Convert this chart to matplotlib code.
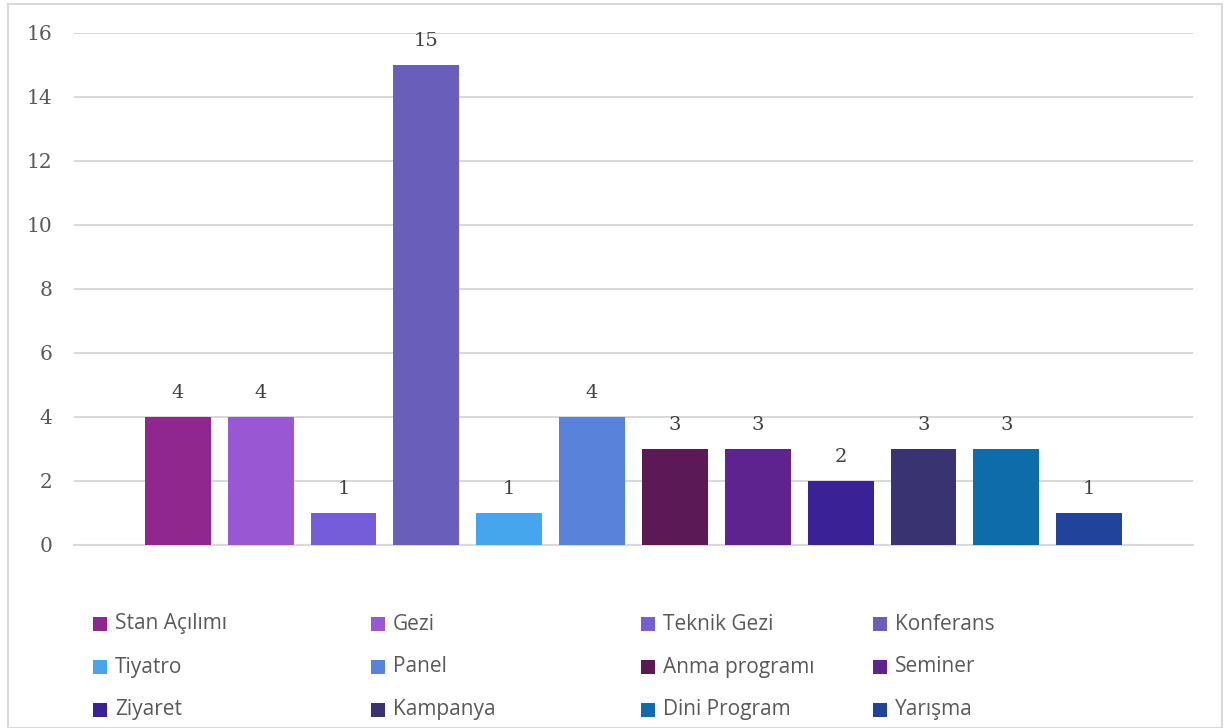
import matplotlib
matplotlib.use("Agg")
import matplotlib.pyplot as plt
from matplotlib.patches import Rectangle

categories = ["Stan Açılımı", "Gezi", "Teknik Gezi", "Konferans", "Tiyatro", "Panel",
              "Anma programı", "Seminer", "Ziyaret", "Kampanya", "Dini Program", "Yarışma"]
values = [4, 4, 1, 15, 1, 4, 3, 3, 2, 3, 3, 1]
colors = ["#90278E", "#9A57D3", "#755DD9", "#695FBA", "#45A5ED", "#5983DB",
          "#5B1955", "#5F238F", "#3A2195", "#393371", "#0F6CAB", "#21449A"]
yticks = [0, 2, 4, 6, 8, 10, 12, 14, 16]

W, H = 1225, 728
fig = plt.figure(figsize=(W / 100, H / 100), dpi=100)

# outer border
fig.add_artist(Rectangle((8 / W, 0), (1222 - 8) / W, (H - 4) / H, transform=fig.transFigure,
                         fill=False, edgecolor="#D9D9D9", linewidth=1.5))

ax_left, ax_right = 74, 1193
ax_top, ax_bot = 33, 545
ax = fig.add_axes([ax_left / W, (H - ax_bot) / H, (ax_right - ax_left) / W, (ax_bot - ax_top) / H])

n = len(values)
pad = 104 / 83
x = list(range(n))
ax.bar(x, values, width=66 / 83, color=colors, zorder=3)
ax.set_xlim(-pad, n - 1 + pad)
ax.set_ylim(0, 16)
ax.set_yticks(yticks)
ax.yaxis.grid(True, color="#D9D9D9", linewidth=1.5, zorder=0)
ax.set_xticks([])
for s in ["top", "right", "left"]:
    ax.spines[s].set_visible(False)
ax.spines["bottom"].set_color("#D9D9D9")
ax.spines["bottom"].set_linewidth(1.5)
ax.tick_params(axis="y", length=0, pad=15.5, labelsize=14.5, labelcolor="#595959")
for lab in ax.get_yticklabels():
    lab.set_fontfamily("DejaVu Serif")

for xi, v in zip(x, values):
    ax.annotate(str(v), (xi, v), xytext=(0, 17), textcoords="offset points",
                ha="center", va="center", fontsize=14, color="#404040",
                family="DejaVu Serif")

# legend drawn manually (4 columns x 3 rows)
col_x = [93, 371, 641, 873]
row_y = [624, 667, 710]
for i, (lab, c) in enumerate(zip(categories, colors)):
    r, k = divmod(i, 4)
    cx, cy = col_x[k], row_y[r]
    fig.add_artist(Rectangle((cx / W, (H - cy - 7) / H), 14 / W, 14 / H,
                             transform=fig.transFigure, facecolor=c, edgecolor="none"))
    fig.text((cx + 22) / W, (H - cy) / H, lab, ha="left", va="center",
             fontsize=15, color="#595959", family="Open Sans")

fig.savefig("out.png", dpi=100)
